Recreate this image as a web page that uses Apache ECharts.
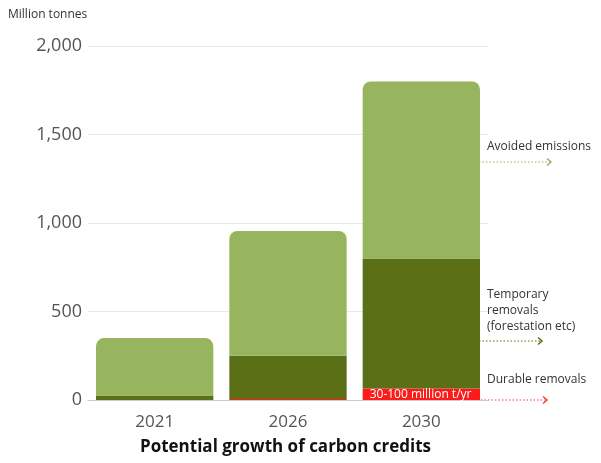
<!DOCTYPE html>
<html><head><meta charset="utf-8">
<script src="https://cdn.jsdelivr.net/npm/echarts@6/dist/echarts.min.js"></script>
<style>html,body{margin:0;padding:0;background:#fff}#c{width:601px;height:463px}</style>
</head><body><div id="c"></div>
<script>
const categories = ['2021', '2026', '2030'];
const durable = [0, 5, 65];
const temporary = [25, 245, 735];
const avoided = [325, 705, 1000];
const yTicks = [0, 500, 1000, 1500, 2000];

const FONT = '"Open Sans", "Noto Sans", sans-serif';
const chart = echarts.init(document.getElementById('c'));

function arrow(x1, x2, y, color) {
  return [
    { type: 'line', shape: { x1: x1, y1: y, x2: x2, y2: y },
      style: { stroke: color, lineWidth: 1.2, lineDash: [1.5, 2] } },
    { type: 'polyline', shape: { points: [[x2 - 4, y - 3.5], [x2, y], [x2 - 4, y + 3.5]] },
      style: { stroke: color, lineWidth: 1.5, fill: null } }
  ];
}
function note(x, y, text) {
  return { type: 'text', left: x, top: y,
    style: { text: text, font: '12px ' + FONT, fill: '#333', lineHeight: 16 } };
}

chart.setOption({
  animation: false,
  textStyle: { fontFamily: FONT },
  grid: { left: 88, right: 113, top: 46, bottom: 63, containLabel: false },
  xAxis: {
    type: 'category', data: categories,
    axisLine: { lineStyle: { color: '#c9c8db', width: 1 } },
    axisTick: { show: false },
    axisLabel: { color: '#555', fontSize: 17, margin: 14, fontFamily: FONT }
  },
  yAxis: {
    type: 'value', min: yTicks[0], max: yTicks[yTicks.length - 1], interval: 500,
    axisLine: { show: false }, axisTick: { show: false },
    splitLine: { lineStyle: { color: '#e8e8e8' } },
    axisLabel: { color: '#555', fontSize: 18, margin: 6, fontFamily: FONT,
      formatter: v => v.toLocaleString('en-US') }
  },
  series: [
    { name: 'Durable removals', type: 'bar', stack: 's', data: durable, barWidth: '88%',
      itemStyle: { color: '#ff1a1a' },
      label: { show: true, position: 'insideLeft', offset: [2, 0], color: '#fff', fontSize: 12,
        fontFamily: FONT,
        formatter: p => p.dataIndex === 2 ? '30-100 million t/yr' : '' } },
    { name: 'Temporary removals', type: 'bar', stack: 's', data: temporary,
      itemStyle: { color: '#5b6f16' } },
    { name: 'Avoided emissions', type: 'bar', stack: 's', data: avoided,
      itemStyle: { color: '#97b55e', borderRadius: [8, 8, 0, 0] } }
  ],
  graphic: [
    { type: 'text', left: 8, top: 9,
      style: { text: 'Million tonnes', font: '12px ' + FONT, fill: '#333' } },
    { type: 'text', left: 140, top: 439,
      style: { text: 'Potential growth of carbon credits', font: 'bold 17px ' + FONT, fill: '#111' } },
    note(487, 139, 'Avoided emissions'),
    note(487, 287, 'Temporary\nremovals\n(forestation etc)'),
    note(487, 372, 'Durable removals'),
    ...arrow(479, 551, 162, '#97b55e'),
    ...arrow(479, 542, 341, '#5b6f16'),
    ...arrow(481, 547, 400, '#ff3b3b')
  ]
});
</script></body></html>
